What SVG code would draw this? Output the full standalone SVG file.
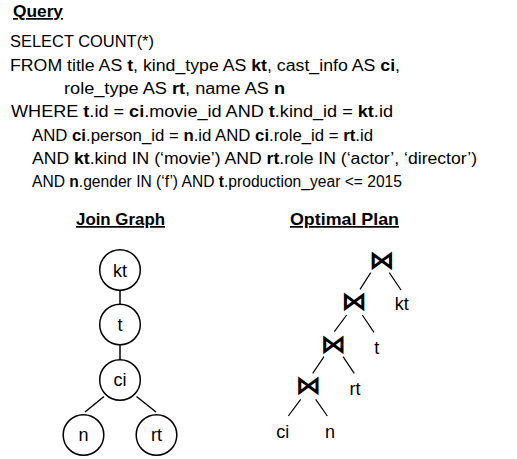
<svg xmlns="http://www.w3.org/2000/svg" width="517" height="459" viewBox="0 0 517 459">
<style>
text{font-family:"Liberation Sans",Arial,sans-serif;fill:#000}
.q{font-size:16px}
.h{font-size:17px;font-weight:bold;text-decoration:underline}
.b{font-weight:bold}
.lbl{font-size:18px;text-anchor:middle}
.j{font-family:"DejaVu Sans",sans-serif;font-size:26px;text-anchor:middle;font-weight:bold}
.node circle{fill:#fff;stroke:#000;stroke-width:1.5}
#connectors line{stroke:#000;stroke-width:1.5}
#plan-edges line{stroke:#000;stroke-width:1.2}
</style>
<rect width="517" height="459" fill="#fff"/>
<g id="query">
<text class="h" x="13" y="17" textLength="50" lengthAdjust="spacingAndGlyphs">Query</text>
<text class="q" x="10" y="47.3" textLength="144" lengthAdjust="spacingAndGlyphs">SELECT COUNT(*)</text>
<text class="q" x="10" y="70.5" textLength="390" lengthAdjust="spacingAndGlyphs">FROM title AS <tspan class="b">t</tspan>, kind_type AS <tspan class="b">kt</tspan>, cast_info AS <tspan class="b">ci</tspan>,</text>
<text class="q" x="64" y="93.8" textLength="221" lengthAdjust="spacingAndGlyphs">role_type AS <tspan class="b">rt</tspan>, name AS <tspan class="b">n</tspan></text>
<text class="q" x="11" y="117.2" textLength="382" lengthAdjust="spacingAndGlyphs">WHERE <tspan class="b">t</tspan>.id = <tspan class="b">ci</tspan>.movie_id AND <tspan class="b">t</tspan>.kind_id = <tspan class="b">kt</tspan>.id</text>
<text class="q" x="32" y="140.6" textLength="341" lengthAdjust="spacingAndGlyphs">AND <tspan class="b">ci</tspan>.person_id = <tspan class="b">n</tspan>.id AND <tspan class="b">ci</tspan>.role_id = <tspan class="b">rt</tspan>.id</text>
<text class="q" x="32" y="164" textLength="445" lengthAdjust="spacingAndGlyphs">AND <tspan class="b">kt</tspan>.kind IN (‘movie’) AND <tspan class="b">rt</tspan>.role IN (‘actor’, ‘director’)</text>
<text class="q" x="32" y="187.4" textLength="370" lengthAdjust="spacingAndGlyphs">AND <tspan class="b">n</tspan>.gender IN (‘f’) AND <tspan class="b">t</tspan>.production_year &lt;= 2015</text>
</g>
<text class="h" x="76" y="225" textLength="89" lengthAdjust="spacingAndGlyphs">Join Graph</text>
<text class="h" x="290" y="225" textLength="109" lengthAdjust="spacingAndGlyphs">Optimal Plan</text>
<g id="connectors">
<line x1="120" y1="290" x2="120" y2="304.5"/>
<line x1="120" y1="344.5" x2="120" y2="360"/>
<line x1="104" y1="396.5" x2="85" y2="412"/>
<line x1="136.5" y1="396.5" x2="156" y2="412"/>
</g>
<g id="node-kt" class="node"><circle cx="120" cy="270" r="20.3"/><text class="lbl" x="120" y="276.5">kt</text></g>
<g id="node-t" class="node"><circle cx="120" cy="324.5" r="20.3"/><text class="lbl" x="120" y="330.5">t</text></g>
<g id="node-ci" class="node"><circle cx="120" cy="380" r="20.3"/><text class="lbl" x="120" y="386">ci</text></g>
<g id="node-n" class="node"><circle cx="83.5" cy="435" r="20.3"/><text class="lbl" x="83.5" y="441">n</text></g>
<g id="node-rt" class="node"><circle cx="156.5" cy="435" r="20.3"/><text class="lbl" x="156.5" y="441">rt</text></g>
<g id="plan-edges">
<line x1="370.7" y1="272.7" x2="360" y2="289.3"/>
<line x1="389.3" y1="272.7" x2="401" y2="290"/>
<line x1="346.7" y1="315" x2="334.3" y2="331.7"/>
<line x1="362.3" y1="315" x2="374" y2="332.3"/>
<line x1="324" y1="356.7" x2="312.7" y2="373.3"/>
<line x1="343" y1="356.7" x2="354.3" y2="373.3"/>
<line x1="300.7" y1="399.3" x2="288.3" y2="416"/>
<line x1="315.7" y1="399.3" x2="327.3" y2="416"/>
</g>
<g id="join1"><text class="j" x="381.7" y="269">⋈</text></g>
<g id="join2"><text class="j" x="354" y="309.7">⋈</text></g>
<g id="join3"><text class="j" x="333.3" y="353">⋈</text></g>
<g id="join4"><text class="j" x="308.3" y="394">⋈</text></g>
<g id="plan-kt"><text class="lbl" x="401.7" y="309.5">kt</text></g>
<g id="plan-t"><text class="lbl" x="376.7" y="354">t</text></g>
<g id="plan-rt"><text class="lbl" x="355" y="394.5">rt</text></g>
<g id="plan-ci"><text class="lbl" x="282.7" y="437.5">ci</text></g>
<g id="plan-n"><text class="lbl" x="330" y="437.5">n</text></g>
</svg>
